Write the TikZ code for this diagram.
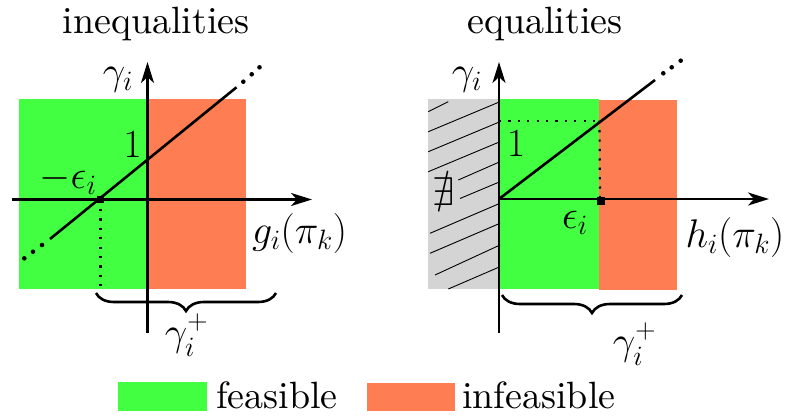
\documentclass[tikz,border=0pt]{standalone}
\usepackage{fix-cm}
\usepackage{amssymb}
\usetikzlibrary{arrows.meta,decorations.pathreplacing}
\definecolor{feas}{RGB}{66,255,66}
\definecolor{infeas}{RGB}{255,125,82}
\definecolor{hatchgray}{RGB}{212,212,212}
\font\bigtextfont="[lmroman10-regular.otf]" at 38pt
\begin{document}
\begin{tikzpicture}[x=1pt,y=-1pt,
  lbl/.style={inner sep=0pt, font=\fontsize{40}{48}\selectfont},
  txt/.style={inner sep=0pt, font=\bigtextfont},
  axisline/.style={line width=2.6pt, -{Stealth[length=21pt,width=13pt,inset=6pt]}},
  mainline/.style={line width=2.6pt},
  dotline/.style={line width=2.2pt, dash pattern=on 2.2pt off 7.2pt},
  hatchline/.style={line width=0.9pt},
  bigdot/.style={circle, fill, inner sep=0pt, minimum size=4.6pt},
  marker/.style={rectangle, fill, inner sep=0pt, minimum size=7.5pt},
  bracestyle/.style={line width=2.6pt, decorate, decoration={brace, amplitude=18pt}}]
\useasboundingbox (0,0) rectangle (789,415);

% ---------- left panel: inequalities ----------
\node[txt, anchor=base] (titleL) at (156,33) {inequalities};
\fill[feas] (19,99) rectangle (148,289);
\fill[infeas] (148,99) rectangle (246,289);

\coordinate (lineLa) at (50,239);
\coordinate (lineLb) at (236.5,87.3);
\node[marker] (epsL) at (100.5,199.5) {};
\coordinate (epsLbot) at (100.5,289);
\draw[dotline] (epsL.center) -- (epsLbot);
\draw[mainline] (lineLa) -- (lineLb);
\node[bigdot] (dL1) at (243.3,81.7) {};
\node[bigdot] (dL2) at (251.7,74.3) {};
\node[bigdot] (dL3) at (259.5,67.3) {};
\node[bigdot] (dL4) at (42,245) {};
\node[bigdot] (dL5) at (33,251.7) {};
\node[bigdot] (dL6) at (24.3,258.3) {};

\coordinate (yLbot) at (147.5,333);
\coordinate (yLtop) at (147.5,62);
\coordinate (xLleft) at (12,199.5);
\coordinate (xLright) at (312,199.5);
\draw[axisline] (yLbot) -- (yLtop);
\draw[axisline] (xLleft) -- (xLright);

\node[lbl] (gamL) at (118,80) {$\gamma_i$};
\node[lbl] (oneL) at (132.5,145) {$1$};
\node[lbl] (epsLlbl) at (68,180) {$-\epsilon_i$};
\node[lbl] (gL) at (299.5,233.5) {$g_i(\pi_k)$};

\coordinate (brLa) at (276,293);
\coordinate (brLb) at (96,293);
\draw[bracestyle] (brLa) -- (brLb);
\node[lbl] (gpL) at (186.5,335) {$\gamma_i^+$};

% ---------- right panel: equalities ----------
\node[txt, anchor=base] (titleR) at (545,33) {equalities};
\fill[hatchgray] (428,99) rectangle (499,289);
\fill[feas] (499,99) rectangle (599,289);
\fill[infeas] (599,100) rectangle (677,290);

\draw[hatchline] (428.3,111.7) -- (448.3,101.7);
\draw[hatchline] (428.3,131.7) -- (500,101.7);
\draw[hatchline] (428.3,151.7) -- (500,121.7);
\draw[hatchline] (428.3,171.7) -- (500,141.7);
\draw[hatchline] (458.3,180) -- (500,161.7);
\draw[hatchline] (460,198.5) -- (500,181.7);
\draw[hatchline] (430,233.3) -- (500,203.3);
\draw[hatchline] (430,253.3) -- (500,223.3);
\draw[hatchline] (435,275) -- (500,245);
\draw[hatchline] (448.3,289) -- (500,266.7);

\node[lbl] (nex) at (444,192) {$\nexists$};

\coordinate (oneRy) at (499,120.7);
\coordinate (oneRx) at (599.5,120.7);
\node[marker] (epsR) at (601,201) {};
\draw[dotline] (oneRy) -- (oneRx);
\draw[dotline] (oneRx) -- (600,199);

\coordinate (origR) at (499,199);
\coordinate (lineRb) at (655,80);
\draw[mainline] (origR) -- (lineRb);
\node[bigdot] (dR1) at (663.3,73.3) {};
\node[bigdot] (dR2) at (671.7,67.3) {};
\node[bigdot] (dR3) at (680.7,60.7) {};

\coordinate (yRbot) at (499,333);
\coordinate (yRtop) at (499,62);
\coordinate (xRright) at (769,199);
\draw[axisline] (yRbot) -- (yRtop);
\draw[axisline] (origR) -- (xRright);

\node[lbl] (gamR) at (467,80) {$\gamma_i$};
\node[lbl] (oneR) at (516,144) {$1$};
\node[lbl] (epsRlbl) at (575,222.5) {$\epsilon_i$};
\node[lbl] (hR) at (735,237.5) {$h_i(\pi_k)$};

\coordinate (brRa) at (682,295);
\coordinate (brRb) at (502,295);
\draw[bracestyle] (brRa) -- (brRb);
\node[lbl] (gpR) at (634.5,344) {$\gamma_i^+$};

% ---------- legend ----------
\node[fill=feas, inner sep=0pt, minimum width=89pt, minimum height=29pt] (legF) at (162.5,396.5) {};
\node[txt, anchor=base west] (legFt) at (216,408) {feasible};
\node[fill=infeas, inner sep=0pt, minimum width=88pt, minimum height=28pt] (legI) at (411,397) {};
\node[txt, anchor=base west] (legIt) at (462,408) {infeasible};
\end{tikzpicture}
\end{document}
